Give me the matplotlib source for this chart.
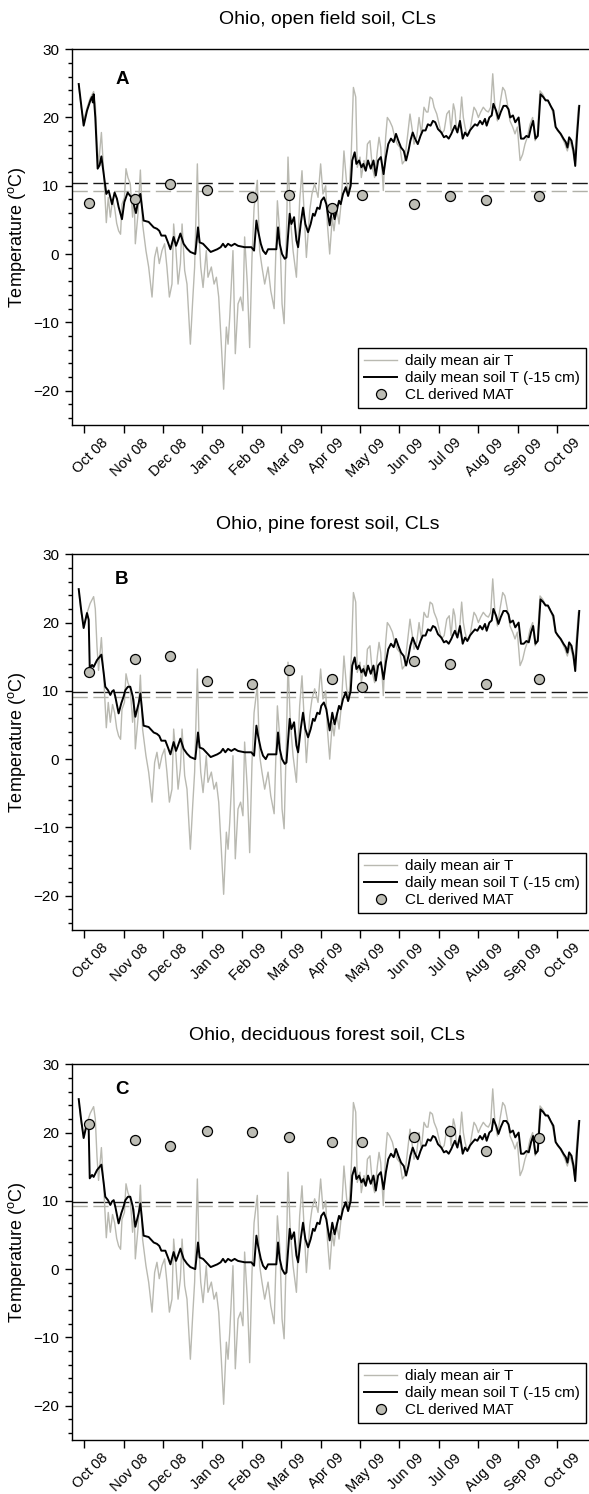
import numpy as np
import matplotlib
matplotlib.use('Agg')
import matplotlib.pyplot as plt
from matplotlib.transforms import ScaledTranslation

plt.rcParams['font.family'] = ['Liberation Sans', 'DejaVu Sans']

# ---------------- data (x = days after the "Oct 08" tick) ----------------
month_labels = ['Oct 08', 'Nov 08', 'Dec 08', 'Jan 09', 'Feb 09', 'Mar 09', 'Apr 09',
                'May 09', 'Jun 09', 'Jul 09', 'Aug 09', 'Sep 09', 'Oct 09']

air_day = [-4.3, -2.5, -0.5, 2.1, 4.5, 7.2, 8.5, 9.8, 11.0, 13.2, 15.0, 17.0, 18.5, 20.1,
           21.8, 23.4, 25.0, 26.5, 28.0, 29.1, 31.0, 32.2, 33.7, 35.5, 37.3, 38.5, 39.4,
           41.5, 43.3, 45.0, 47.6, 49.7, 52.3, 54.3, 56.1, 57.9, 60.0, 62.0, 63.8, 65.7,
           67.7, 69.0, 70.8, 72.4, 74.2, 75.5, 77.5, 79.3, 81.9, 83.7, 85.2, 87.3, 88.6,
           89.9, 91.7, 94.2, 95.5, 98.1, 100.2, 102.0, 103.8, 105.8, 107.6, 109.7, 111.0,
           112.3, 114.8, 116.6, 118.7, 120.7, 122.5, 123.8, 125.9, 127.7, 129.5, 131.1,
           133.6, 135.4, 137.2, 139.3, 141.9, 144.0, 146.6, 149.1, 151.0, 152.7, 154.3,
           156.1, 157.3, 159.1, 161.2, 163.8, 166.3, 168.1, 170.2, 171.5, 174.1, 175.8,
           177.9, 180.5, 182.5, 184.3, 186.4, 187.7, 189.5, 191.5, 192.8, 194.9, 196.7,
           198.5, 200.5, 202.6, 204.4, 206.2, 207.8, 209.6, 210.8, 212.9, 213.9, 216.0,
           217.3, 218.6, 220.6, 222.4, 224.2, 226.3, 227.6, 228.9, 230.9, 232.7, 234.0,
           235.8, 237.9, 239.7, 241.7, 243.8, 245.6, 247.4, 249.5, 251.5, 253.3, 254.6,
           256.7, 258.5, 260.3, 262.3, 264.2, 265.4, 267.0, 268.8, 270.1, 272.2, 274.0,
           275.8, 277.9, 279.9, 281.8, 283.2, 285.0, 286.2, 287.5, 289.6, 291.4, 292.7,
           294.0, 295.3, 297.3, 299.1, 300.9, 302.5, 304.3, 306.1, 308.1, 310.2, 312.0,
           313.8, 315.4, 317.1, 319.0, 321.0, 323.1, 324.8, 326.7, 328.7, 330.8, 332.6,
           334.4, 336.5, 338.5, 340.3, 342.1, 344.2, 346.2, 348.1, 349.9, 351.9, 354.0,
           355.8, 357.6, 359.6, 361.7, 363.5, 365.3, 367.4, 369.4, 371.2, 373.0, 375.1,
           377.2, 378.5, 379.8, 381.5]
air_T = [24.6, 21.5, 19.5, 21.4, 22.8, 23.8, 22.0, 16.5, 13.0, 17.8, 12.0, 4.6, 8.3, 5.4,
         8.0, 6.8, 4.5, 3.4, 2.9, 7.3, 8.3, 12.5, 11.2, 10.3, 5.4, 8.8, 1.5,
         6.0, 12.3, 4.4, 0.5, -1.9, -6.3, -0.5, 1.0, -1.4, 0.5, 1.5, -1.9, -6.3,
         -4.4, 4.4, 0.5, -4.4, -1.4, 4.4, -2.4, -4.4, -13.2, -6.8, -1.9, 13.2, 3.0,
         -1.9, -4.9, 0.5, -3.4, -1.9, -4.4, -3.4, -6.3, -13.2, -19.8, -10.7, -13.2,
         -9.3, 0.5, -14.6, -7.3, -6.3, -8.3, 2.5, -4.4, -13.7, -0.5, 6.8,
         10.8, 0.5, -1.9, -4.4, -1.9, -5.4, -8.0, 7.8, 3.0, -7.3, -10.2,
         3.0, 14.2, 5.4, 0.5, -3.4, 7.8, 12.2, 4.4, -0.5, 6.4, 8.8,
         10.3, 8.3, 13.2, 8.8, 10.0, 4.4, 0.0, 5.4, 3.4, 6.8, 4.4,
         7.8, 15.1, 10.3, 8.8, 15.1, 24.4, 23.0, 12.7, 14.2, 11.2, 13.7,
         12.2, 16.1, 16.6, 12.7, 11.2, 15.1, 17.1, 15.6, 9.3, 17.1, 20.0,
         19.5, 18.6, 17.1, 16.1, 15.6, 13.2, 13.7, 17.1, 20.5, 18.1, 16.1,
         17.1, 20.0, 17.6, 21.5, 20.8, 20.8, 23.0, 22.7, 21.5, 20.5, 19.0,
         17.6, 18.1, 20.5, 21.0, 18.1, 22.0, 21.0, 18.1, 18.6, 23.0, 20.0,
         18.6, 17.6, 17.6, 19.5, 21.5, 21.0, 20.0, 20.8, 21.5, 21.0, 20.8,
         21.5, 26.4, 21.5, 19.5, 22.0, 24.4, 23.9, 22.0, 19.5, 18.6, 17.6,
         18.6, 13.7, 14.6, 16.1, 17.1, 19.0, 20.0, 16.6, 17.6, 23.9, 23.4,
         22.7, 22.5, 22.0, 20.8, 18.8, 18.1, 17.6, 16.9, 16.1, 15.1, 16.6,
         15.1, 13.7, 17.1, 21.5]

soilA_day = [-4.3, -2.5, -0.5, 2.1, 4.7, 5.9, 6.6, 7.2, 8.5, 10.3, 11.8, 13.2, 15.0, 17.0,
             18.8, 20.1, 21.4, 23.4, 25.2, 26.5, 29.1, 30.9, 32.2, 33.5, 35.5, 36.8, 39.9,
             42.0, 43.3, 45.8, 49.7, 53.6, 56.1, 57.9, 59.5, 62.6, 64.6, 66.5, 69.0, 70.8,
             72.4, 74.2, 76.7, 79.3, 81.9, 85.7, 87.8, 89.1, 91.7, 94.2, 97.6, 100.2, 102.7,
             105.3, 107.1, 108.9, 111.0, 113.5, 116.1, 118.7, 121.3, 123.8, 126.4, 129.0,
             131.1, 132.9, 134.2, 136.3, 138.0, 140.1, 141.9, 144.5, 148.3, 149.6, 150.9,
             152.7, 154.8, 156.1, 157.3, 158.6, 159.9, 162.0, 163.8, 165.1, 167.1, 168.9,
             170.7, 172.8, 174.8, 176.6, 177.9, 179.9, 181.7, 183.0, 185.0, 186.9, 189.5,
             191.5, 193.3, 195.4, 196.7, 198.0, 199.8, 201.9, 203.7, 205.7, 206.9, 208.8,
             210.1, 212.2, 214.0, 215.5, 217.3, 219.1, 221.2, 223.3, 225.1, 226.9, 229.0,
             231.1, 232.9, 234.7, 236.8, 238.9, 240.7, 242.5, 244.6, 246.7, 248.5, 250.3,
             251.8, 253.6, 255.4, 257.5, 259.6, 261.4, 263.5, 265.3, 267.4, 269.2, 271.0,
             273.1, 275.7, 277.7, 279.5, 281.4, 283.4, 284.5, 286.2, 288.1, 290.1, 292.2,
             294.0, 295.8, 297.8, 299.9, 301.7, 303.5, 305.6, 307.4, 309.4, 310.7, 312.8,
             314.6, 315.9, 318.0, 319.8, 321.6, 323.7, 325.8, 327.6, 328.9, 331.0, 332.8,
             335.4, 337.2, 339.3, 341.4, 343.2, 345.0, 346.6, 348.4, 350.2, 352.3, 354.4,
             356.2, 358.0, 360.1, 362.2, 364.0, 365.8, 367.9, 370.0, 371.8, 373.1, 374.4,
             376.2, 377.8, 379.1, 380.4, 382.2]
soilA_T = [24.9, 22.0, 18.8, 21.0, 22.5, 23.0, 22.2, 23.4, 20.0, 12.5, 13.0, 14.3, 11.7, 8.8,
           9.3, 8.3, 7.3, 9.0, 8.1, 6.9, 5.1, 7.6, 8.3, 9.0, 8.5, 8.3, 6.0,
           8.3, 8.8, 4.9, 4.7, 3.9, 3.7, 3.4, 2.7, 2.7, 1.7, 0.7, 2.5, 1.2,
           2.0, 3.0, 1.5, 0.8, 0.3, 0.0, 3.9, 1.7, 1.5, 1.0, 0.3, 0.5, 0.7,
           1.0, 1.5, 1.0, 1.5, 1.2, 1.5, 1.2, 1.1, 1.0, 1.0, 1.0,
           0.5, 4.9, 3.4, 1.5, 0.5, 0.0, 0.7, 0.7, 0.7, 3.9, 1.5,
           0.0, -0.7, -0.5, 2.5, 5.9, 4.4, 5.4, 2.0, 1.0, 4.4, 6.8,
           4.4, 3.2, 4.4, 5.9, 5.6, 6.8, 6.6, 7.8, 8.3, 7.3, 4.2,
           6.8, 5.1, 6.8, 7.8, 7.3, 8.8, 9.8, 8.5, 10.0, 13.7, 14.9,
           13.2, 13.7, 12.7, 13.2, 12.2, 13.7, 12.5, 13.7, 11.5, 13.7, 14.2,
           11.7, 14.2, 16.1, 16.9, 16.4, 17.6, 16.6, 15.6, 15.1, 13.7, 15.1,
           16.6, 17.8, 16.9, 16.1, 17.3, 18.1, 18.1, 19.0, 18.8, 19.5, 19.3,
           18.3, 17.8, 17.1, 17.3, 16.9, 17.6, 18.1, 18.8, 17.8, 19.5, 16.9,
           17.8, 17.3, 18.1, 18.6, 19.0, 18.8, 19.5, 19.0, 19.8, 18.8, 20.0,
           20.3, 22.0, 21.0, 19.8, 20.8, 21.7, 21.7, 21.2, 20.0, 20.3, 19.3,
           20.0, 16.9, 16.9, 17.3, 17.1, 18.6, 19.5, 16.9, 17.3, 23.4, 23.0,
           22.5, 22.5, 21.7, 21.0, 18.6, 18.1, 17.6, 16.9, 16.4, 15.6, 17.1,
           16.6, 15.1, 12.9, 17.1, 21.7]

# forest soils (panels B and C): early part differs, later part follows the same record
soilBC_early_day = [-4.3, -2.5, -0.5, 2.1, 3.4, 4.2, 6.0, 7.2, 9.8, 13.2, 15.0, 16.2, 18.3,
                    20.1, 21.4, 22.7, 24.0, 26.5, 28.6, 30.4, 31.7, 33.7, 35.5, 37.4, 39.4,
                    42.0, 43.3]
soilBC_early_T = [24.9, 22.0, 19.2, 21.4, 20.4, 13.3, 13.8, 13.5, 14.5, 15.3, 12.6, 10.6, 10.1,
                  9.4, 9.9, 10.1, 9.1, 6.7, 8.2, 9.2, 10.1, 10.6, 10.6, 9.2, 6.2,
                  8.2, 9.6]

cl_day = [3.9, 39.5, 65.9, 95.1, 129.5, 158.2, 191.1, 214.7, 254.6, 282.6, 310.2, 350.9]
clA = [7.5, 8.0, 10.3, 9.4, 8.4, 8.6, 6.8, 8.7, 7.3, 8.5, 7.9, 8.5]
clB = [12.7, 14.7, 15.1, 11.4, 11.0, 13.0, 11.8, 10.5, 14.3, 14.0, 11.0, 11.7]
clC = [21.2, 18.9, 18.1, 20.3, 20.1, 19.4, 18.6, 18.6, 19.4, 20.2, 17.3, 19.2]

soil_mat = [10.4, 9.8, 9.9]
air_mat = [9.25, 9.15, 9.3]

titles = ['Ohio, open field soil, CLs', 'Ohio, pine forest soil, CLs',
          'Ohio, deciduous forest soil, CLs']
letters = ['A', 'B', 'C']
air_labels = ['daily mean air T', 'daily mean air T', 'dialy mean air T']
soil_label = 'daily mean soil T (-15 cm)'
cl_label = 'CL derived MAT'

# ---------------- build the forest soil series ----------------
soilA_day_arr = np.array(soilA_day)
soilA_T_arr = np.array(soilA_T)
late = soilA_day_arr > 45
soilBC_day = np.concatenate([soilBC_early_day, soilA_day_arr[late]])
soilBC_T = np.concatenate([soilBC_early_T, soilA_T_arr[late]])

soil_days = [soilA_day_arr, soilBC_day, soilBC_day]
soil_vals = [soilA_T_arr, soilBC_T, soilBC_T]
cl_vals = [clA, clB, clC]

# ---------------- figure ----------------
W, H = 589, 1494
fig = plt.figure(figsize=(W / 100, H / 100), dpi=100)

AIR_C = '#b9b9b1'
MARK_C = '#bdbdb5'

ax_left = 71.7
ax_right = 589.0
ax_h = 375.5
tops = [49.2, 554.3, 1064.3]
title_y = [19.5, 525.0, 1035.0]
letter_pos = [(122, 79.0), (122, 579.5), (122, 1089.0)]

px_per_day = 1.295
x0_px = 84.3
xmin = (ax_left - x0_px) / px_per_day
xmax = (ax_right - x0_px) / px_per_day

tick_pos = np.arange(13) * 365.0 / 12.0

for i in range(3):
    top = tops[i]
    ax = fig.add_axes([ax_left / W, 1 - (top + ax_h) / H,
                       (ax_right - ax_left) / W, ax_h / H])
    ax.set_xlim(xmin, xmax)
    ax.set_ylim(-25, 30)

    ax.axhline(soil_mat[i], color='#1a1a1a', lw=1.0, ls=(0, (11, 4)), zorder=1)
    ax.axhline(air_mat[i], color='#b0b0a8', lw=1.0, ls=(0, (11, 4)), zorder=1)

    ax.plot(air_day, air_T, color=AIR_C, lw=1.0, zorder=2, label=air_labels[i])
    ax.plot(soil_days[i], soil_vals[i], color='black', lw=1.4, zorder=3, label=soil_label)
    ax.plot(cl_day, cl_vals[i], ls='none', marker='o', ms=7.2, mfc=MARK_C, mec='black',
            mew=0.9, zorder=4, label=cl_label)

    ax.spines['right'].set_visible(False)
    for s in ['left', 'bottom', 'top']:
        ax.spines[s].set_linewidth(1.0)

    ax.set_yticks([-20, -10, 0, 10, 20, 30])
    ax.set_yticks(np.arange(-24, 30, 2), minor=True)
    ax.tick_params(axis='y', which='major', length=5, width=1.0, labelsize=11, pad=4)
    ax.tick_params(axis='y', which='minor', length=3, width=1.0)
    ax.set_xticks(tick_pos)
    ax.set_xticklabels(month_labels, rotation=45, ha='center', va='top')
    ax.tick_params(axis='x', which='major', length=6, width=1.0, labelsize=10.5, pad=2)
    off = ScaledTranslation(6 / 100, 0, fig.dpi_scale_trans)
    for lab in ax.get_xticklabels():
        lab.set_transform(lab.get_transform() + off)

    leg = ax.legend(loc='lower right', bbox_to_anchor=((586 - ax_left) / (ax_right - ax_left),
                                                       16.5 / ax_h),
                    borderaxespad=0, frameon=True, fancybox=False, framealpha=1,
                    edgecolor='black', fontsize=11, handlelength=2.2,
                    handletextpad=0.5, labelspacing=0.2, borderpad=0.4, numpoints=1)
    leg.get_frame().set_linewidth(1.0)

    fig.text((ax_left + 583) / 2 / W, 1 - title_y[i] / H, titles[i], ha='center',
             va='center', fontsize=14)
    fig.text(letter_pos[i][0] / W, 1 - letter_pos[i][1] / H, letters[i], ha='center',
             va='center', fontsize=13.5, fontweight='bold')
    fig.text(17 / W, 1 - (top + ax_h / 2) / H, 'Temperature ($\\mathregular{^o}$C)',
             rotation=90, ha='center', va='center', fontsize=13)

fig.savefig('out.png', dpi=100)
